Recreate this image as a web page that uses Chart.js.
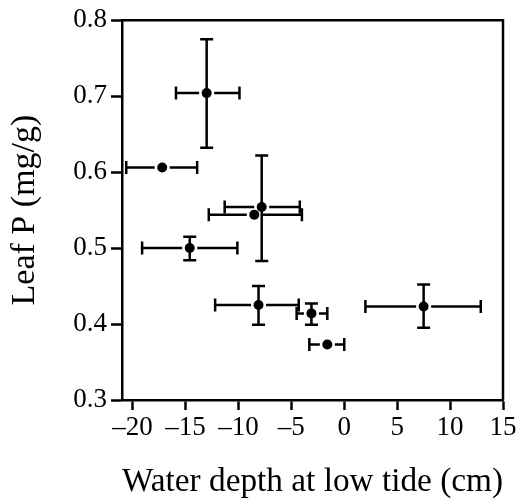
<!DOCTYPE html>
<html>
<head>
<meta charset="utf-8">
<script src="https://cdn.jsdelivr.net/npm/chart.js@4.4.1/dist/chart.umd.min.js"></script>
<style>
  html, body { margin: 0; padding: 0; background: #ffffff; }
  #wrap { position: relative; width: 519px; height: 503px; }
</style>
</head>
<body>
<div id="wrap"><canvas id="c" width="519" height="503"></canvas></div>
<script>
// ---- data ----
const xValues   = [-13.0, -17.2, -7.8, -8.5, -14.6, -8.1, -3.1, -1.6, 7.5];
const yValues   = [0.704, 0.606, 0.554, 0.544, 0.500, 0.425, 0.414, 0.373, 0.423];
const xErrLow   = [-15.9, -20.6, -11.3, -12.8, -19.1, -12.2, -4.5, -3.3, 2.0];
const xErrHigh  = [-9.9, -13.9, -4.2, -4.0, -10.1, -4.3, -1.6, 0.0, 12.9];
const yErrLow   = [0.632, null, 0.483, null, 0.484, 0.399, 0.399, null, 0.395];
const yErrHigh  = [0.775, null, 0.622, null, 0.515, 0.450, 0.427, null, 0.452];
const xTickValues = [-20, -15, -10, -5, 0, 5, 10, 15];
const yTickValues = [0.3, 0.4, 0.5, 0.6, 0.7, 0.8];
const xTitle = 'Water depth at low tide (cm)';
const yTitle = 'Leaf P (mg/g)';

const FONT = '"Liberation Serif", "Times New Roman", serif';
const points = xValues.map((x, i) => ({ x: x, y: yValues[i] }));

const errorBars = {
  id: 'errorBars',
  beforeDatasetsDraw(chart) {
    const ctx = chart.ctx;
    const xs = chart.scales.x, ys = chart.scales.y;
    const cap = 6.5, gap = 7.5;
    ctx.save();
    ctx.strokeStyle = '#000';
    ctx.lineWidth = 2.5;
    ctx.lineCap = 'butt';
    points.forEach((p, i) => {
      const px = xs.getPixelForValue(p.x);
      const py = ys.getPixelForValue(p.y);
      if (xErrLow[i] !== null && xErrHigh[i] !== null) {
        const xl = xs.getPixelForValue(xErrLow[i]);
        const xh = xs.getPixelForValue(xErrHigh[i]);
        ctx.beginPath();
        ctx.moveTo(xl, py); ctx.lineTo(px - gap, py);
        ctx.moveTo(px + gap, py); ctx.lineTo(xh, py);
        ctx.moveTo(xl, py - cap); ctx.lineTo(xl, py + cap);
        ctx.moveTo(xh, py - cap); ctx.lineTo(xh, py + cap);
        ctx.stroke();
      }
      if (yErrLow[i] !== null && yErrHigh[i] !== null) {
        const yl = ys.getPixelForValue(yErrLow[i]);
        const yh = ys.getPixelForValue(yErrHigh[i]);
        ctx.beginPath();
        ctx.moveTo(px, yl); ctx.lineTo(px, yh);
        ctx.moveTo(px - cap, yl); ctx.lineTo(px + cap, yl);
        ctx.moveTo(px - cap, yh); ctx.lineTo(px + cap, yh);
        ctx.stroke();
      }
    });
    ctx.restore();
  },
  afterDraw(chart) {
    const a = chart.chartArea, ctx = chart.ctx;
    ctx.save();
    ctx.strokeStyle = '#000';
    ctx.lineWidth = 2.5;
    ctx.beginPath();
    ctx.moveTo(a.left, a.top); ctx.lineTo(a.right, a.top); ctx.lineTo(a.right, a.bottom);
    ctx.stroke();
    ctx.restore();
  }
};

new Chart(document.getElementById('c'), {
  type: 'scatter',
  data: {
    datasets: [{
      data: points,
      backgroundColor: '#000',
      borderWidth: 0,
      pointRadius: 5,
      pointHoverRadius: 5
    }]
  },
  options: {
    responsive: false,
    animation: false,
    events: [],
    layout: { padding: { top: 16, right: 16, left: 0, bottom: 0 } },
    plugins: { legend: { display: false }, tooltip: { enabled: false } },
    scales: {
      x: {
        type: 'linear', min: -21, max: 15,
        afterBuildTicks: s => { s.ticks = xTickValues.map(v => ({ value: v })); },
        afterFit: s => { s.height = 103; },
        grid: { drawOnChartArea: false, drawTicks: true, tickLength: 10, tickColor: '#000', tickWidth: 2.5 },
        border: { display: true, color: '#000', width: 2.5 },
        ticks: {
          color: '#000', padding: 2, maxRotation: 0, autoSkip: false,
          font: { family: FONT, size: 27 },
          callback: v => String(v).replace('-', '\u2013')
        },
        title: { display: true, text: xTitle, color: '#000', font: { family: FONT, size: 34 }, padding: { top: 0, bottom: 1 } }
      },
      y: {
        type: 'linear', min: 0.3, max: 0.8,
        afterBuildTicks: s => { s.ticks = yTickValues.map(v => ({ value: v })); },
        afterFit: s => { s.width = 122; },
        grid: { drawOnChartArea: false, drawTicks: true, tickLength: 11, tickColor: '#000', tickWidth: 2.5 },
        border: { display: true, color: '#000', width: 2.5 },
        ticks: {
          color: '#000', padding: 4, autoSkip: false,
          font: { family: FONT, size: 27 },
          callback: v => Number(v).toFixed(1)
        },
        title: { display: true, text: yTitle, color: '#000', font: { family: FONT, size: 34 }, padding: { top: 5, bottom: 0 } }
      }
    }
  },
  plugins: [errorBars]
});
</script>
</body>
</html>
